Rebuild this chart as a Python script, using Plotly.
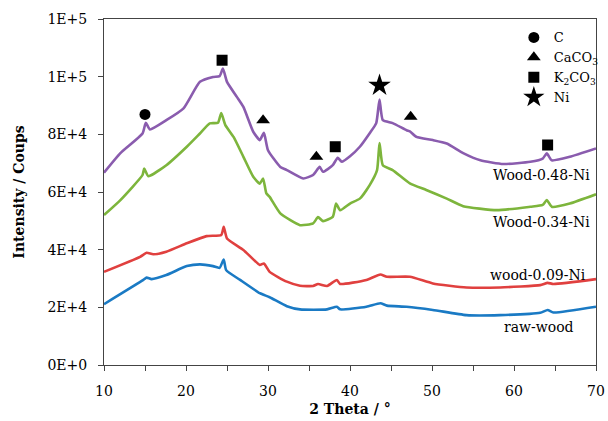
import plotly.graph_objects as go

# ---- data ----
x_purple = [10, 12, 14.7, 15.1, 15.6, 17.6, 19.7, 21.7, 23.3, 24.1, 24.5, 25, 26.2, 27, 28.2, 29, 29.5, 30,
            31.5, 32.3, 34.3, 35.5, 36.3, 36.7, 37.9, 38.5, 39, 40, 41.2, 42.4, 43.2, 43.6, 44, 45.2, 46.9,
            47.3, 48.1, 50.1, 51.8, 53.8, 55.9, 58.7, 62, 63.5, 64, 64.6, 66.8, 70]
y_purple = [66700, 73500, 80300, 84000, 81700, 84900, 89000, 98200, 99900, 100200, 102800, 98200, 93000, 89500,
            80900, 78000, 80500, 74500, 68700, 67600, 64700, 65900, 68700, 67000, 69300, 71900, 70500, 72400,
            75700, 80400, 83900, 92100, 84900, 83900, 81400, 81000, 79100, 78000, 76800, 73500, 71000, 69700,
            70500, 71600, 73400, 71000, 72200, 75100]

x_green = [10, 12, 14.7, 14.9, 15.4, 17.6, 20.1, 21.7, 22.9, 23.9, 24.3, 24.8, 25.8, 27, 28.2, 29, 29.4, 29.8,
           30.2, 31.5, 33.9, 35.5, 36.1, 36.7, 37.9, 38.3, 38.8, 40, 41.2, 42.4, 43.3, 43.6, 44, 45.2, 47.3,
           49.3, 51.8, 53.8, 57.9, 62, 63.5, 64, 64.6, 66.8, 70]
y_green = [52000, 57200, 65900, 68100, 65500, 69300, 75700, 80300, 83800, 84000, 87400, 83200, 79100, 72200,
           65300, 62900, 64700, 59500, 58300, 52600, 48500, 49100, 51300, 49900, 51400, 56000, 53700, 56000,
           57700, 62400, 67600, 77000, 69300, 67600, 63000, 60700, 57700, 55100, 53700, 54900, 55500, 57200,
           54900, 56000, 59200]

x_red = [10, 14.4, 15.2, 16, 17.6, 20.1, 22.5, 24.3, 24.6, 25, 27, 29, 29.5, 30.2, 32.3, 33.9, 35.5, 36.1,
         37.2, 38.4, 38.8, 42, 43.7, 44.5, 47.3, 50.1, 54.2, 58.3, 63.2, 64.1, 64.8, 70]
y_red = [32300, 37500, 38900, 38400, 39300, 42200, 44700, 45100, 47900, 43900, 39900, 34700, 35200, 32300,
         28900, 27500, 27400, 28100, 27400, 29500, 28100, 29500, 31400, 30600, 30600, 28300, 26900, 26900,
         27700, 28500, 28100, 29800]

x_blue = [10, 14.8, 15.2, 15.8, 17.6, 20.1, 21.7, 23.3, 24.1, 24.6, 24.9, 26.6, 29, 30.2, 32.3, 33.9, 37.2,
          38.4, 38.8, 42, 43.7, 44.5, 46.9, 50.1, 54.2, 58.3, 63.2, 64.1, 64.8, 70]
y_blue = [21100, 29500, 30300, 29800, 31200, 34300, 34900, 34300, 33700, 36600, 32900, 29500, 24900, 23500,
          20400, 19300, 19300, 20200, 19300, 20200, 21400, 20600, 20200, 19100, 17300, 17300, 18100, 19100,
          18200, 20200]

series_names = ["Wood-0.48-Ni", "Wood-0.34-Ni", "wood-0.09-Ni", "raw-wood"]
label_x = [69.5, 69.5, 69.0, 67.6]
label_y = [65900, 49700, 31200, 13200]

# phase markers
c_x, c_y = [15.0], [86900]
caco3_x, caco3_y = [29.4, 35.9, 47.4], [84900, 72200, 86100]
k2co3_x, k2co3_y = [24.4, 38.2, 64.1], [105700, 75700, 76300]
ni_x, ni_y = [43.6], [97000]

y_tickvals = [0, 20000, 40000, 60000, 80000, 100000, 120000]
y_ticktext = ["0E+0", "2E+4", "4E+4", "6E+4", "8E+4", "1E+5", "1E+5"]

# ---- figure ----
FONT = "DejaVu Serif"
fig = go.Figure()
for xs, ys, col in [(x_purple, y_purple, "#8A5CAE"), (x_green, y_green, "#7DB53C"),
                    (x_red, y_red, "#E0403F"), (x_blue, y_blue, "#1A7AC4")]:
    fig.add_trace(go.Scatter(x=xs, y=ys, mode="lines",
                             line=dict(color=col, width=2.6, shape="spline", smoothing=0.5),
                             showlegend=False, hoverinfo="skip"))

for xs, ys, sym, sz, nm in [(c_x, c_y, "circle", 11, "C"),
                            (caco3_x, caco3_y, "triangle-up", 12, "CaCO<sub>3</sub>"),
                            (k2co3_x, k2co3_y, "square", 11, "K<sub>2</sub>CO<sub>3</sub>"),
                            (ni_x, ni_y, "star", 17, "Ni")]:
    fig.add_trace(go.Scatter(x=xs, y=ys, mode="markers", name=nm,
                             marker=dict(symbol=sym, size=sz, color="black", line=dict(width=0))))

for nm, lx, ly in zip(series_names, label_x, label_y):
    fig.add_annotation(x=lx, y=ly, text=nm, showarrow=False, xanchor="right", yanchor="middle",
                       font=dict(family=FONT, size=14, color="black"))

fig.update_layout(
    width=608, height=421,
    margin=dict(l=104, r=12, t=19, b=56, autoexpand=False),
    paper_bgcolor="white", plot_bgcolor="white",
    font=dict(family=FONT, size=14, color="black"),
    legend=dict(x=0.833, y=0.99, xanchor="left", yanchor="top", bgcolor="rgba(0,0,0,0)",
                font=dict(family=FONT, size=13), tracegroupgap=0, itemsizing="trace"),
    xaxis=dict(range=[10, 70], dtick=10, tick0=10, showline=True, linecolor="#444", linewidth=1,
               mirror=True, ticks="outside", ticklen=5, tickcolor="#444", showgrid=False, zeroline=False,
               ticklabelstandoff=8,
               minor=dict(dtick=5, ticks="outside", ticklen=5, tickcolor="#444"),
               title=dict(text="<b>2 Theta / °</b>", font=dict(family=FONT, size=14), standoff=6)),
    yaxis=dict(range=[0, 120000], tickvals=y_tickvals, ticktext=y_ticktext, showline=True,
               linecolor="#444", linewidth=1, mirror=True, ticks="outside", ticklen=5, tickcolor="#444",
               showgrid=False, zeroline=False, ticklabelstandoff=8,
               title=dict(text="<b>Intensity / Coups</b>", font=dict(family=FONT, size=14), standoff=19)),
)

fig.write_html("out.html", config={"displayModeBar": False},
               post_script="document.body.style.margin='0';document.body.style.overflow='hidden';")
